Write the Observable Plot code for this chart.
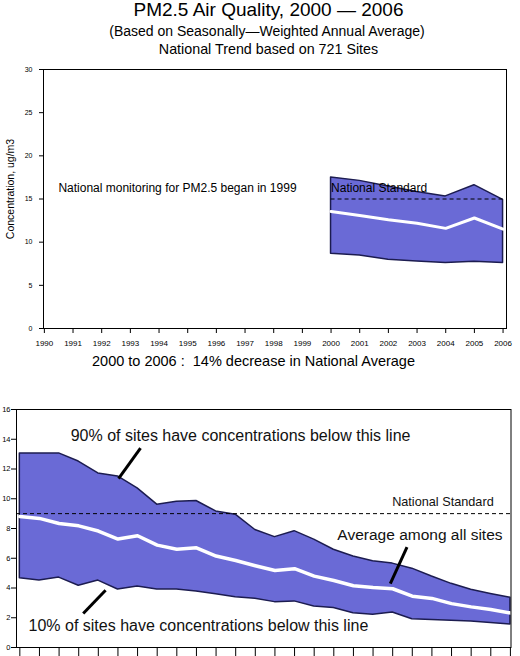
<!DOCTYPE html>
<html>
<head>
<meta charset="utf-8">
<script src="https://cdn.jsdelivr.net/npm/d3@7"></script>
<script src="https://cdn.jsdelivr.net/npm/@observablehq/plot@0.6"></script>
<style>
  body { margin: 0; background: #fff; }
  #wrap { position: relative; width: 520px; height: 656px; overflow: hidden; font-family: "Liberation Sans", Arial, sans-serif; color: #000; }
  .t { position: absolute; left: 0; text-align: center; white-space: pre; }
  #top, #bot { position: absolute; left: 0; }
</style>
</head>
<body>
<div id="wrap">
  <div class="t" id="title" style="top:0px;width:537px;font-size:19px;line-height:20px;">PM2.5 Air Quality, 2000 — 2006</div>
  <div class="t" id="sub1" style="top:24px;width:534px;font-size:14px;line-height:14px;">(Based on Seasonally—Weighted Annual Average)</div>
  <div class="t" id="sub2" style="top:42px;width:537px;font-size:14.3px;line-height:14px;">National Trend based on 721 Sites</div>
  <div id="top" style="top:56px"></div>
  <div class="t" id="mid" style="top:354px;width:507px;font-size:14.5px;line-height:14px;">2000 to 2006 :  14% decrease in National Average</div>
  <div id="bot" style="top:395px"></div>
</div>
<script>
// ---- Top panel data (PM2.5, ug/m3) ----
const topYears = [2000, 2001, 2002, 2003, 2004, 2005, 2006];
const top90 = [17.5, 17.1, 16.45, 15.8, 15.3, 16.6, 14.9];
const topAvg = [13.55, 13.1, 12.6, 12.2, 11.6, 12.8, 11.5];
const top10 = [8.65, 8.46, 7.96, 7.76, 7.6, 7.73, 7.6];
const topStandard = 15;
const topXTicks = [1990, 1991, 1992, 1993, 1994, 1995, 1996, 1997, 1998, 1999, 2000, 2001, 2002, 2003, 2004, 2005, 2006];
const topYTicks = [0, 5, 10, 15, 20, 25, 30];
const topYLabel = "Concentration, ug/m3";
const topNotes = [
  {label: "National monitoring for PM2.5 began in 1999", year: 1990.49, value: 16.2},
  {label: "National Standard", year: 2000.0, value: 16.3}
];

// ---- Bottom panel data ----
const botYears = [1981, 1982, 1983, 1984, 1985, 1986, 1987, 1988, 1989, 1990, 1991, 1992, 1993,
                  1994, 1995, 1996, 1997, 1998, 1999, 2000, 2001, 2002, 2003, 2004, 2005, 2006];
const bot90 = [13.05, 13.05, 13.05, 12.5, 11.7, 11.5, 10.7, 9.6, 9.8, 9.85, 9.15, 8.93, 7.9,
               7.42, 7.82, 7.25, 6.57, 6.12, 5.8, 5.64, 5.3, 4.77, 4.28, 3.88, 3.6, 3.35];
const botAvg = [8.8, 8.68, 8.34, 8.18, 7.83, 7.29, 7.51, 6.88, 6.61, 6.7, 6.15, 5.85, 5.5,
                5.18, 5.3, 4.8, 4.5, 4.15, 4.03, 3.95, 3.45, 3.3, 2.95, 2.73, 2.55, 2.32];
const bot10 = [4.65, 4.5, 4.7, 4.15, 4.5, 3.9, 4.1, 3.9, 3.9, 3.77, 3.58, 3.38, 3.27,
               3.05, 3.1, 2.75, 2.65, 2.3, 2.2, 2.35, 1.9, 1.85, 1.8, 1.75, 1.65, 1.55];
const botStandard = 9;
const botYTicks = [0, 2, 4, 6, 8, 10, 12, 14, 16];
const botNotes = [
  {label: "90% of sites have concentrations below this line", year: 1992.25, value: 14.25, size: 16},
  {label: "10% of sites have concentrations below this line", year: 1990.1, value: 1.46, size: 16},
  {label: "National Standard", year: 2002.56, value: 9.77, size: 12.7},
  {label: "Average among all sites", year: 2001.39, value: 7.54, size: 15.5}
];
const botLeaders = [
  {x1: 1987.15, y1: 13.4, x2: 1986.03, y2: 11.36},
  {x1: 1985.37, y1: 3.85, x2: 1984.23, y2: 2.28},
  {x1: 2000.73, y1: 6.75, x2: 1999.88, y2: 4.3}
];

const bandFill = "#6a6ad6";
const edge = "#1c1c50";
const font = "Liberation Sans, Arial, sans-serif";

const topRows = topYears.map((year, i) => ({year, p90: top90[i], avg: topAvg[i], p10: top10[i]}));
const botRows = botYears.map((year, i) => ({year, p90: bot90[i], avg: botAvg[i], p10: bot10[i]}));

const topPlot = Plot.plot({
  width: 520, height: 300,
  marginLeft: 43, marginRight: 14, marginTop: 13, marginBottom: 28,
  style: {fontFamily: font, background: "transparent", color: "#000"},
  x: {domain: [1989.97, 2006.12]},
  y: {domain: [0, 30]},
  marks: [
    Plot.areaY(topRows, {x: "year", y1: "p10", y2: "p90", fill: bandFill, stroke: edge, strokeWidth: 1.5}),
    Plot.line(topRows, {x: "year", y: "avg", stroke: "white", strokeWidth: 3}),
    Plot.ruleY([topStandard], {x1: topYears[0], x2: topYears[topYears.length - 1], stroke: "#000", strokeWidth: 1, strokeDasharray: "4,3"}),
    Plot.text(topNotes, {x: "year", y: "value", text: "label", textAnchor: "start", fontSize: 12, fill: "#000"}),
    Plot.frame({stroke: "#000", strokeWidth: 1}),
    Plot.axisX({ticks: topXTicks, tickFormat: d => String(d), tickSize: 5, tickPadding: 7, fontSize: 8, label: null}),
    Plot.axisY({ticks: topYTicks, tickSize: 4, tickPadding: 7, fontSize: 7, label: null}),
    Plot.text([topYLabel], {frameAnchor: "left", textAnchor: "middle", rotate: -90, dx: -33, dy: -10, fontSize: 10.5, fill: "#000"})
  ]
});
document.getElementById("top").appendChild(topPlot);

const botPlot = Plot.plot({
  width: 520, height: 261,
  marginLeft: 16, marginRight: 9.5, marginTop: 14, marginBottom: 9,
  style: {fontFamily: font, background: "transparent", color: "#000", overflow: "visible"},
  x: {domain: [1980.83, 2006.03]},
  y: {domain: [0, 16]},
  marks: [
    Plot.areaY(botRows, {x: "year", y1: "p10", y2: "p90", fill: bandFill, stroke: edge, strokeWidth: 1.5}),
    Plot.line(botRows, {x: "year", y: "avg", stroke: "white", strokeWidth: 3.5}),
    Plot.ruleY([botStandard], {stroke: "#000", strokeWidth: 1, strokeDasharray: "4,3"}),
    Plot.link(botLeaders, {x1: "x1", y1: "y1", x2: "x2", y2: "y2", stroke: "#000", strokeWidth: 3}),
    Plot.text(botNotes, {x: "year", y: "value", text: "label", fontSize: d => d.size, fill: "#111"}),
    Plot.frame({stroke: "#000", strokeWidth: 1}),
    Plot.axisX({ticks: botYears, tickFormat: () => "", tickSize: 10, label: null}),
    Plot.axisY({ticks: botYTicks, tickSize: 5, tickPadding: 1, fontSize: 7.5, label: null})
  ]
});
document.getElementById("bot").appendChild(botPlot);
</script>
</body>
</html>
